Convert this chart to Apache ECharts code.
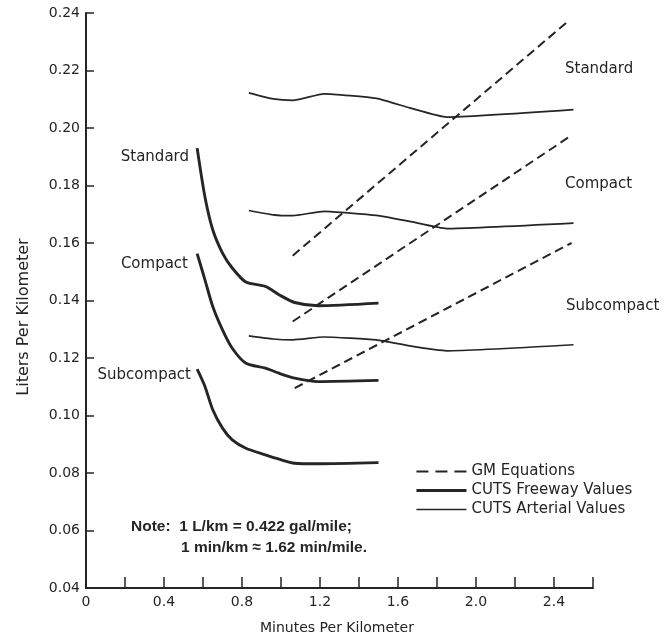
<!DOCTYPE html>
<html>
<head>
<meta charset="utf-8">
<script src="https://cdn.jsdelivr.net/npm/echarts@6/dist/echarts.min.js"></script>
<style>
  html, body { margin: 0; padding: 0; background: #fff; }
  #chart { width: 667px; height: 639px; }
</style>
</head>
<body>
<div id="chart"></div>
<script>
// Fuel consumption (L/km) against travel time (min/km) by vehicle class.

// CUTS freeway values
const freewayX = [0.57, 0.61, 0.65, 0.70, 0.75, 0.82, 0.92, 0.99, 1.07, 1.19, 1.50];
const freewayStandard   = [0.193, 0.176, 0.1646, 0.1565, 0.1513, 0.1464, 0.1449, 0.1420, 0.1393, 0.1382, 0.1391];
const freewayCompact    = [0.1563, 0.1472, 0.1379, 0.1298, 0.1234, 0.1182, 0.1165, 0.1147, 0.1130, 0.1118, 0.1122];
const freewaySubcompact = [0.1161, 0.1101, 0.1020, 0.0956, 0.0915, 0.0886, 0.0863, 0.0848, 0.0834, 0.0832, 0.0836];

// CUTS arterial values
const arterialX = [0.835, 0.96, 1.06, 1.22, 1.49, 1.66, 1.85, 2.50];
const arterialStandard   = [0.2122, 0.2101, 0.2096, 0.2119, 0.2103, 0.2070, 0.2038, 0.2064];
const arterialCompact    = [0.1713, 0.1698, 0.1695, 0.1710, 0.1696, 0.1675, 0.1650, 0.1669];
const arterialSubcompact = [0.1277, 0.1266, 0.1263, 0.1273, 0.1263, 0.1242, 0.1225, 0.1246];

// GM equations (straight lines, end points)
const gmStandardX   = [1.06, 2.47];
const gmStandard    = [0.1556, 0.237];
const gmCompactX    = [1.06, 2.48];
const gmCompact     = [0.1327, 0.197];
const gmSubcompactX = [1.07, 2.49];
const gmSubcompact  = [0.1095, 0.160];

// Axis tick labels
const xTickLabels = ['0', '0.4', '0.8', '1.2', '1.6', '2.0', '2.4'];

const SERIES_GM = 'GM Equations';
const SERIES_FWY = 'CUTS Freeway Values';
const SERIES_ART = 'CUTS Arterial Values';

const INK = '#252525';
const FONT = 'DejaVu Sans';
const NOTE_FONT = 'bold 15.5px "Liberation Sans"';
const FWY_WIDTH = 2.9;
const ART_WIDTH = 1.7;

function pairs(xs, ys) { return xs.map((x, i) => [x, ys[i]]); }

function freeway(ys) {
  return {
    name: SERIES_FWY, type: 'line', data: pairs(freewayX, ys),
    symbol: 'none', smooth: 0.25, silent: true,
    lineStyle: { color: INK, width: FWY_WIDTH }, itemStyle: { color: INK }, z: 4
  };
}
function arterial(ys) {
  return {
    name: SERIES_ART, type: 'line', data: pairs(arterialX, ys),
    symbol: 'none', smooth: 0.15, silent: true,
    lineStyle: { color: INK, width: ART_WIDTH }, itemStyle: { color: INK }, z: 3
  };
}
function gm(xs, ys) {
  return {
    name: SERIES_GM, type: 'line', data: pairs(xs, ys),
    symbol: 'none', silent: true,
    lineStyle: { color: INK, width: 2, type: [9, 5] }, itemStyle: { color: INK }, z: 2
  };
}

function classLabel(text, x, y, align) {
  return {
    type: 'text', x: x, y: y,
    style: { text: text, fill: INK, font: '15px "' + FONT + '"', textAlign: align, textVerticalAlign: 'middle' }
  };
}

const chart = echarts.init(document.getElementById('chart'), null, { renderer: 'canvas' });

chart.setOption({
  animation: false,
  backgroundColor: '#fff',
  grid: { left: 86, right: 74, top: 13, bottom: 51, containLabel: false },
  xAxis: {
    type: 'value', min: 0, max: 2.6, interval: 0.2,
    axisLine: { show: true, onZero: false, lineStyle: { color: INK, width: 2 } },
    axisTick: { show: true, inside: true, length: 11, lineStyle: { color: INK, width: 1.5 } },
    splitLine: { show: false },
    axisLabel: {
      margin: 7, color: INK, fontFamily: FONT, fontSize: 14,
      formatter: function (v) {
        const i = Math.round(v / 0.2);
        if (i % 2 !== 0) return '';
        return xTickLabels[i / 2] || '';
      }
    }
  },
  yAxis: {
    type: 'value', min: 0.04, max: 0.24, interval: 0.02,
    axisLine: { show: true, onZero: false, lineStyle: { color: INK, width: 2 } },
    axisTick: { show: true, inside: true, length: 8, lineStyle: { color: INK, width: 1.5 } },
    splitLine: { show: false },
    axisLabel: {
      margin: 6, color: INK, fontFamily: FONT, fontSize: 14,
      formatter: function (v) { return v.toFixed(2); }
    }
  },
  legend: {
    orient: 'vertical', left: 410, top: 459,
    itemWidth: 50, itemHeight: 14, itemGap: 4,
    selectedMode: false,
    itemStyle: { opacity: 0 },
    data: [
      { name: SERIES_GM, lineStyle: { width: 2, type: [12, 7] } },
      { name: SERIES_FWY, lineStyle: { width: FWY_WIDTH } },
      { name: SERIES_ART, lineStyle: { width: 1.4 } }
    ],
    textStyle: { color: INK, fontFamily: FONT, fontSize: 15, lineHeight: 14 }
  },
  series: [
    gm(gmStandardX, gmStandard),
    gm(gmCompactX, gmCompact),
    gm(gmSubcompactX, gmSubcompact),
    freeway(freewayStandard),
    freeway(freewayCompact),
    freeway(freewaySubcompact),
    arterial(arterialStandard),
    arterial(arterialCompact),
    arterial(arterialSubcompact)
  ],
  graphic: [
    // vehicle class labels beside the freeway curves
    classLabel('Standard', 189, 157, 'right'),
    classLabel('Compact', 188, 264, 'right'),
    classLabel('Subcompact', 191, 375, 'right'),
    // vehicle class labels beside the arterial curves
    classLabel('Standard', 565, 69, 'left'),
    classLabel('Compact', 565, 184, 'left'),
    classLabel('Subcompact', 566, 306, 'left'),
    // axis titles
    {
      type: 'text', x: 24, y: 317, rotation: Math.PI / 2,
      style: { text: 'Liters Per Kilometer', fill: INK, font: '16px "' + FONT + '"', textAlign: 'center', textVerticalAlign: 'middle' }
    },
    {
      type: 'text', x: 337, y: 628,
      style: { text: 'Minutes Per Kilometer', fill: INK, font: '14px "' + FONT + '"', textAlign: 'center', textVerticalAlign: 'middle' }
    },
    // unit conversion note
    {
      type: 'text', x: 131, y: 527,
      style: { text: 'Note:  1 L/km = 0.422 gal/mile;', fill: INK, font: NOTE_FONT, textVerticalAlign: 'middle' }
    },
    {
      type: 'text', x: 181, y: 548,
      style: { text: '1 min/km \u2248 1.62 min/mile.', fill: INK, font: NOTE_FONT, textVerticalAlign: 'middle' }
    }
  ]
});
</script>
</body>
</html>
